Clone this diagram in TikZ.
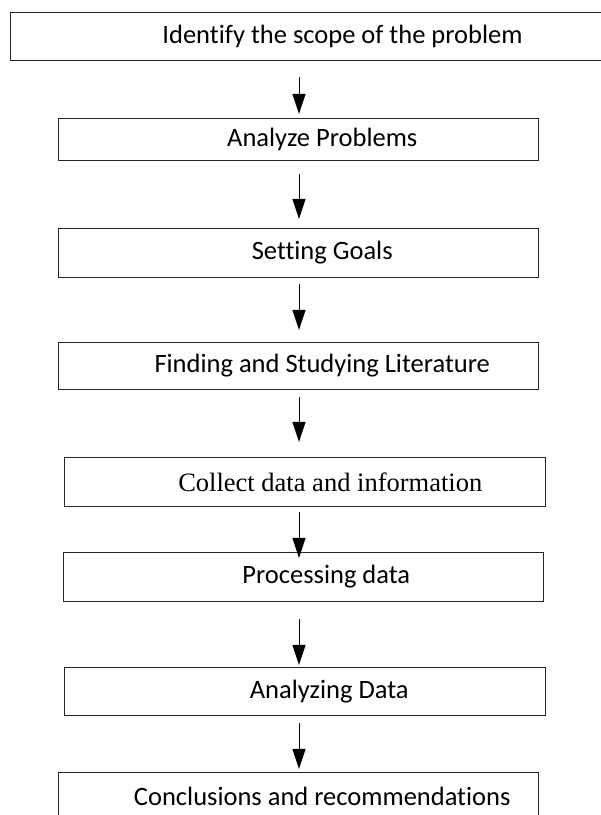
\documentclass[tikz,border=0pt]{standalone}
\usepackage{fontspec}
\setmainfont{Carlito}[Ligatures={NoCommon,NoRequired,NoContextual}]
\newfontfamily\timesfont{Liberation Serif}
\usetikzlibrary{arrows.meta}
\begin{document}
\begin{tikzpicture}[x=1pt,y=1pt,
  stepbox/.style={draw=black!85, line width=1pt, rectangle, inner sep=0pt, anchor=north west,
    minimum width=480.5pt, minimum height=48pt, font=\fontsize{26.5}{30}\selectfont},
  arr/.style={line width=1pt, -{Triangle[length=20pt,width=13pt]}}]
\useasboundingbox (0,0) rectangle (601,815);
\fill[white] (0,0) rectangle (601,815);
\node[stepbox, minimum width=595pt, minimum height=48pt] (b1) at (10,815-12) {\hspace*{69pt}Identify the scope of the problem};
\node[stepbox, minimum height=42pt] (b2) at (57.5,815-118) {\hspace*{48pt}Analyze Problems};
\node[stepbox, minimum height=49pt] (b3) at (57.5,815-228) {\hspace*{48pt}Setting Goals};
\node[stepbox, minimum height=47pt] (b4) at (57.5,815-342) {\hspace*{48pt}Finding and Studying Literature};
\node[stepbox, minimum height=49pt, font=\fontsize{26.5}{30}\timesfont] (b5) at (64,815-457) {\hspace*{51pt}Collect data and information};
\node[stepbox, minimum height=49pt] (b6) at (62.5,815-552) {\hspace*{46pt}Processing data};
\node[stepbox, minimum height=48pt] (b7) at (64,815-667) {\hspace*{49pt}Analyzing Data};
\node[stepbox, minimum height=48pt] (b8) at (57.5,815-772) {\hspace*{48pt}Conclusions and recommendations};
\coordinate (ax) at (299,0);
\draw[arr, shorten <=16pt, shorten >=4pt] (b1.south -| ax) -- (b2.north -| ax);
\draw[arr, shorten <=13pt, shorten >=9pt] (b2.south -| ax) -- (b3.north -| ax);
\draw[arr, shorten <=6pt, shorten >=12pt] (b3.south -| ax) -- (b4.north -| ax);
\draw[arr, shorten <=7pt, shorten >=15pt] (b4.south -| ax) -- (b5.north -| ax);
\draw[arr, shorten <=5pt, shorten >=-6pt] (b5.south -| ax) -- (b6.north -| ax);
\draw[arr, shorten <=17pt, shorten >=2pt] (b6.south -| ax) -- (b7.north -| ax);
\draw[arr, shorten <=7pt, shorten >=3pt] (b7.south -| ax) -- (b8.north -| ax);
\end{tikzpicture}
\end{document}
